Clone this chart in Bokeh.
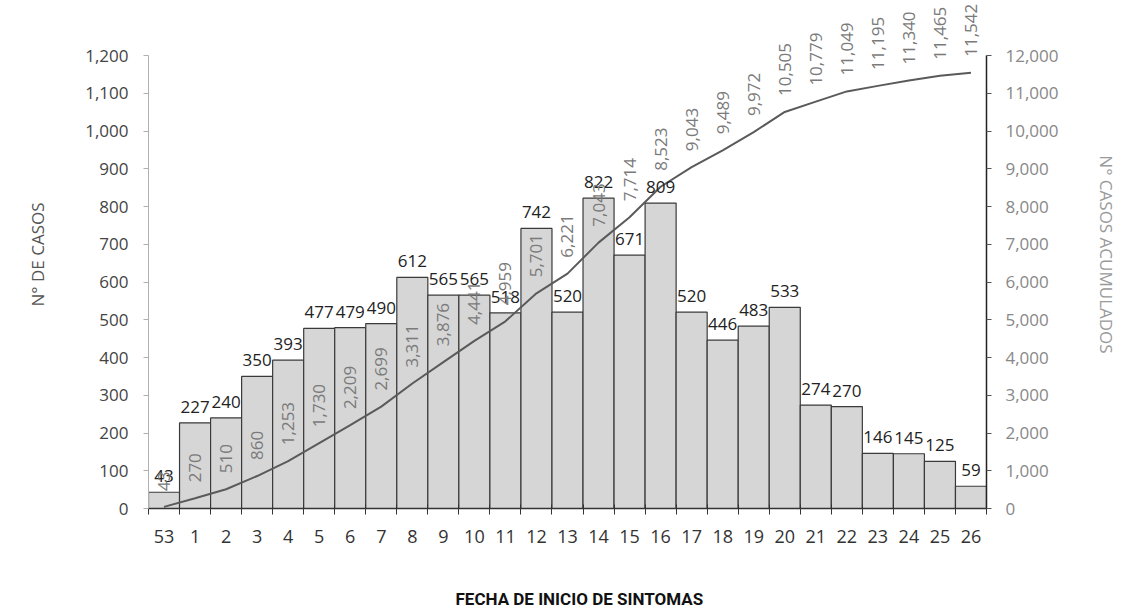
import math
from bokeh.plotting import figure
from bokeh.models import (ColumnDataSource, Range1d, LinearAxis, LabelSet, FixedTicker,
                          SingleIntervalTicker, NumeralTickFormatter, Title)
from bokeh.core.properties import value
from bokeh.embed import file_html
from bokeh.resources import INLINE

semanas = ["53", "1", "2", "3", "4", "5", "6", "7", "8", "9", "10", "11", "12", "13",
           "14", "15", "16", "17", "18", "19", "20", "21", "22", "23", "24", "25", "26"]
casos = [43, 227, 240, 350, 393, 477, 479, 490, 612, 565, 565, 518, 742, 520,
         822, 671, 809, 520, 446, 483, 533, 274, 270, 146, 145, 125, 59]
acumulados = [43, 270, 510, 860, 1253, 1730, 2209, 2699, 3311, 3876, 4441, 4959, 5701, 6221,
              7043, 7714, 8523, 9043, 9489, 9972, 10505, 10779, 11049, 11195, 11340, 11465, 11542]

FONT = "Open Sans"
xs = list(range(len(semanas)))
src = ColumnDataSource(dict(
    x=xs, casos=casos, acum=acumulados,
    casos_lbl=[str(v) for v in casos],
    acum_lbl=[f"{v:,}" for v in acumulados],
))

# frame: 508 px tall; the axes' 1200 / 12000 sit 453 px above the bottom
FRAME_H = 508
AXIS_H = 453
ymax = 1200 * FRAME_H / AXIS_H

p = figure(width=1120, height=608, output_backend="svg", toolbar_location=None,
           x_range=Range1d(-0.5, len(semanas) - 0.5), y_range=Range1d(0, ymax),
           min_border_left=148, min_border_right=134, min_border_top=0, min_border_bottom=100)
p.extra_y_ranges = {"cum": Range1d(0, ymax * 10)}
p.outline_line_color = None
p.background_fill_color = "white"
p.border_fill_color = "white"
p.xgrid.grid_line_color = None
p.ygrid.grid_line_color = None

p.vbar(x="x", top="casos", width=1.0, source=src, fill_color="#d6d6d6",
       line_color="#3a3a3a", line_width=1.2)
p.line(x="x", y="acum", y_range_name="cum", source=src, line_color="#5a5a5a", line_width=2)

bar_labels = LabelSet(x="x", y="casos", text="casos_lbl", source=src, text_align="center",
                      text_baseline="bottom", y_offset=10, text_font=value(FONT),
                      text_font_size=value("17px"), text_color=value("#222222"))
p.add_layout(bar_labels)
cum_labels = LabelSet(x="x", y="acum", y_range_name="cum", text="acum_lbl", source=src,
                      angle=math.pi / 2, text_align="left", text_baseline="middle",
                      y_offset=16, text_font=value(FONT), text_font_size=value("17px"),
                      text_color=value("#7a7a7a"))
p.add_layout(cum_labels)

# x axis
xa = p.xaxis[0]
xa.ticker = FixedTicker(ticks=xs, minor_ticks=[i - 0.5 for i in range(len(semanas) + 1)])
xa.major_label_overrides = {i: s for i, s in enumerate(semanas)}
xa.major_tick_line_color = None
xa.minor_tick_line_color = "#333333"
xa.minor_tick_in = 4
xa.minor_tick_out = 6
xa.axis_line_color = "#333333"
xa.axis_line_width = 1.5
xa.major_label_text_font = FONT
xa.major_label_text_font_size = "18px"
xa.major_label_text_color = "#333333"
xa.major_label_standoff = 15

# left axis
ya = p.yaxis[0]
ya.bounds = (0, 1200)
ya.ticker = SingleIntervalTicker(interval=100)
ya.formatter = NumeralTickFormatter(format="0,0")
ya.minor_tick_line_color = None
ya.axis_line_color = "#b0b0b0"
ya.major_tick_line_color = "#b0b0b0"
ya.major_tick_in = 0
ya.major_tick_out = 5
ya.major_label_standoff = 15
ya.major_label_text_font = FONT
ya.major_label_text_font_size = "17px"
ya.major_label_text_color = "#444444"
ya.axis_label = "N° DE CASOS"
ya.axis_label_text_font = FONT
ya.axis_label_text_font_size = "17px"
ya.axis_label_text_font_style = "normal"
ya.axis_label_text_color = "#555555"
ya.axis_label_standoff = 33

# right axis
ra = LinearAxis(y_range_name="cum", ticker=SingleIntervalTicker(interval=1000),
                formatter=NumeralTickFormatter(format="0,0"))
ra.bounds = (0, 12000)
ra.minor_tick_line_color = None
ra.axis_line_color = "#222222"
ra.axis_line_width = 1.5
ra.major_tick_line_color = "#555555"
ra.major_tick_in = 0
ra.major_tick_out = 5
ra.major_label_standoff = 14
ra.major_label_text_font = FONT
ra.major_label_text_font_size = "17px"
ra.major_label_text_color = "#888888"
ra.axis_label = "N° CASOS ACUMULADOS"
ra.axis_label_text_font = FONT
ra.axis_label_text_font_size = "17px"
ra.axis_label_text_font_style = "normal"
ra.axis_label_text_color = "#9a9a9a"
ra.axis_label_standoff = 33
p.add_layout(ra, "right")

# spacer title (a single space), pushes the x title further down
spacer = Title(text=" ", standoff=38, text_font_size="1px")
p.add_layout(spacer, "below")

t = Title(text="FECHA DE INICIO DE SINTOMAS", align="left", offset=307, standoff=0,
          text_font="Roboto", text_font_size="17px",
          text_font_style="bold", text_color="#111111")
p.add_layout(t, "below")

open("out.html", "w").write(file_html(p, INLINE))
